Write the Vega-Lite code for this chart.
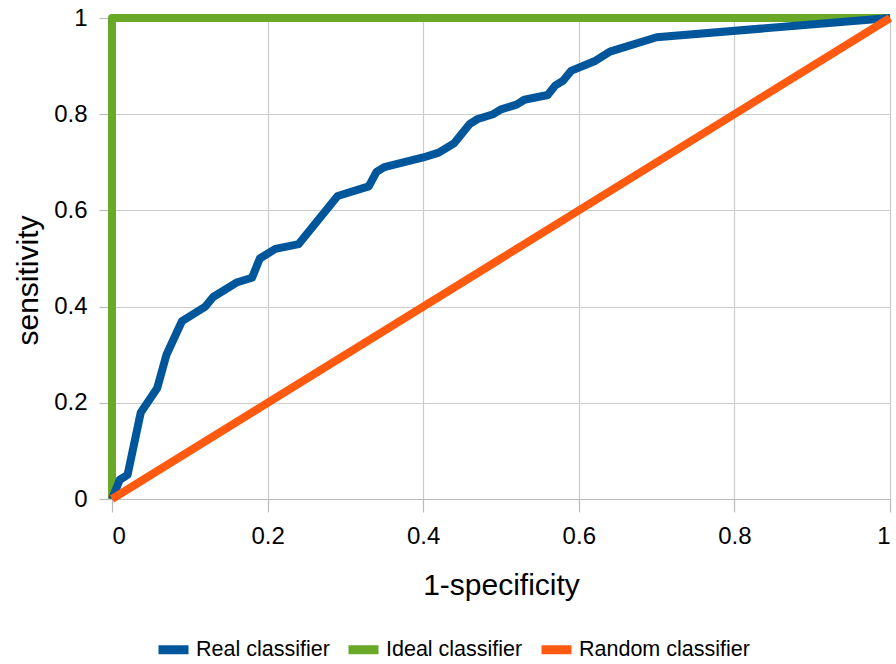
{
  "$schema": "https://vega.github.io/schema/vega-lite/v6.json",
  "autosize": "none",
  "width": 778,
  "height": 481,
  "padding": {"left": 112, "top": 18, "right": 6, "bottom": 165},
  "background": "white",
  "config": {
    "font": "Liberation Sans",
    "view": {"stroke": null},
    "axis": {
      "gridColor": "#cccccc",
      "gridWidth": 1.2,
      "domainColor": "#bbbbbb",
      "domainWidth": 1.2,
      "tickColor": "#bbbbbb",
      "tickWidth": 1.2,
      "tickSize": 13,
      "labelColor": "#000000",
      "labelFontSize": 24,
      "labelPadding": 12,
      "titleColor": "#000000",
      "titleFontSize": 30,
      "titleFontWeight": "normal"
    }
  },
  "data": {
    "values": [
      {"series": "Ideal classifier", "fpr": 0, "tpr": 0},
      {"series": "Ideal classifier", "fpr": 0, "tpr": 1},
      {"series": "Ideal classifier", "fpr": 1, "tpr": 1},
      {"series": "Real classifier", "fpr": 0, "tpr": 0},
      {"series": "Real classifier", "fpr": 0.01, "tpr": 0.04},
      {"series": "Real classifier", "fpr": 0.02, "tpr": 0.05},
      {"series": "Real classifier", "fpr": 0.037, "tpr": 0.18},
      {"series": "Real classifier", "fpr": 0.058, "tpr": 0.23},
      {"series": "Real classifier", "fpr": 0.07, "tpr": 0.30},
      {"series": "Real classifier", "fpr": 0.09, "tpr": 0.37},
      {"series": "Real classifier", "fpr": 0.12, "tpr": 0.40},
      {"series": "Real classifier", "fpr": 0.13, "tpr": 0.42},
      {"series": "Real classifier", "fpr": 0.16, "tpr": 0.45},
      {"series": "Real classifier", "fpr": 0.18, "tpr": 0.46},
      {"series": "Real classifier", "fpr": 0.19, "tpr": 0.50},
      {"series": "Real classifier", "fpr": 0.21, "tpr": 0.52},
      {"series": "Real classifier", "fpr": 0.24, "tpr": 0.53},
      {"series": "Real classifier", "fpr": 0.29, "tpr": 0.63},
      {"series": "Real classifier", "fpr": 0.33, "tpr": 0.65},
      {"series": "Real classifier", "fpr": 0.34, "tpr": 0.68},
      {"series": "Real classifier", "fpr": 0.35, "tpr": 0.69},
      {"series": "Real classifier", "fpr": 0.40, "tpr": 0.71},
      {"series": "Real classifier", "fpr": 0.42, "tpr": 0.72},
      {"series": "Real classifier", "fpr": 0.44, "tpr": 0.74},
      {"series": "Real classifier", "fpr": 0.46, "tpr": 0.78},
      {"series": "Real classifier", "fpr": 0.47, "tpr": 0.79},
      {"series": "Real classifier", "fpr": 0.49, "tpr": 0.80},
      {"series": "Real classifier", "fpr": 0.50, "tpr": 0.81},
      {"series": "Real classifier", "fpr": 0.52, "tpr": 0.82},
      {"series": "Real classifier", "fpr": 0.53, "tpr": 0.83},
      {"series": "Real classifier", "fpr": 0.56, "tpr": 0.84},
      {"series": "Real classifier", "fpr": 0.57, "tpr": 0.86},
      {"series": "Real classifier", "fpr": 0.58, "tpr": 0.87},
      {"series": "Real classifier", "fpr": 0.59, "tpr": 0.89},
      {"series": "Real classifier", "fpr": 0.62, "tpr": 0.91},
      {"series": "Real classifier", "fpr": 0.64, "tpr": 0.93},
      {"series": "Real classifier", "fpr": 0.70, "tpr": 0.96},
      {"series": "Real classifier", "fpr": 1, "tpr": 1},
      {"series": "Random classifier", "fpr": 0, "tpr": 0},
      {"series": "Random classifier", "fpr": 1, "tpr": 1}
    ]
  },
  "encoding": {
    "x": {
      "field": "fpr",
      "type": "quantitative",
      "title": "1-specificity",
      "scale": {"domain": [0, 1], "nice": false},
      "axis": {"values": [0, 0.2, 0.4, 0.6, 0.8, 1], "format": "~g", "titlePadding": 22}
    },
    "y": {
      "field": "tpr",
      "type": "quantitative",
      "title": "sensitivity",
      "scale": {"domain": [0, 1], "nice": false},
      "axis": {"values": [0, 0.2, 0.4, 0.6, 0.8, 1], "format": "~g", "titlePadding": 10, "titleY": 262}
    },
    "color": {
      "field": "series",
      "type": "nominal",
      "scale": {
        "domain": ["Real classifier", "Ideal classifier", "Random classifier"],
        "range": ["#00569a", "#6aa828", "#ff5a10"]
      },
      "legend": {
        "title": null,
        "orient": "none",
        "direction": "horizontal",
        "legendX": 42,
        "legendY": 612,
        "symbolType": "stroke",
        "symbolSize": 900,
        "symbolStrokeWidth": 9,
        "labelFontSize": 21.5,
        "labelColor": "#000000",
        "labelOffset": 3,
        "columnPadding": 0,
        "labelLimit": 300
      }
    },
    "order": {"value": null}
  },
  "layer": [
    {
      "transform": [{"filter": "datum.series === 'Ideal classifier'"}],
      "mark": {"type": "line", "strokeWidth": 8, "strokeJoin": "round"}
    },
    {
      "transform": [{"filter": "datum.series === 'Real classifier'"}],
      "mark": {"type": "line", "strokeWidth": 8, "strokeJoin": "round"}
    },
    {
      "transform": [{"filter": "datum.series === 'Random classifier'"}],
      "mark": {"type": "line", "strokeWidth": 8, "strokeJoin": "round"}
    }
  ]
}
